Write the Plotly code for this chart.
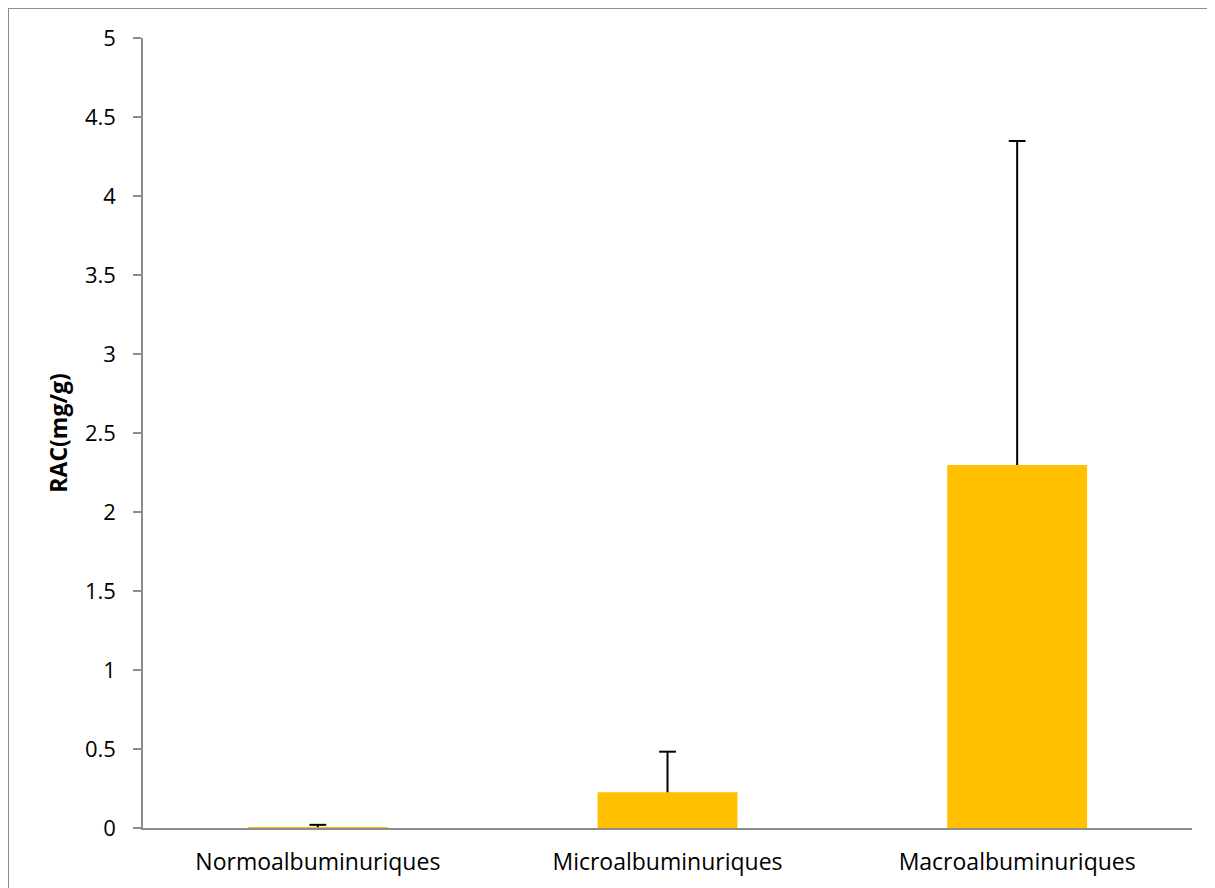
import plotly.graph_objects as go

categories = ["Normoalbuminuriques", "Microalbuminuriques", "Macroalbuminuriques"]
values = [0.005, 0.226, 2.297]
errors_plus = [0.015, 0.257, 2.051]
tick_vals = [0, 0.5, 1, 1.5, 2, 2.5, 3, 3.5, 4, 4.5, 5]
tick_text = ["0", "0.5", "1", "1.5", "2", "2.5", "3", "3.5", "4", "4.5", "5"]

font_family = "Open Sans, sans-serif"

W, H = 1215, 888
L, R, T, B = 135, 31, 30, 68
PW, PH = W - L - R, H - T - B

fig = go.Figure()
fig.add_trace(go.Bar(
    x=categories,
    y=values,
    marker=dict(color="#FFC000", line=dict(width=0)),
    width=0.4,
    hoverinfo="x+y",
))

# error bars (upper only, no cap at the bar top)
ex, ey = [], []
for c, v, e in zip(categories, values, errors_plus):
    ex += [c, c, None]
    ey += [v, v + e, None]
fig.add_trace(go.Scatter(
    x=ex, y=ey, mode="lines",
    line=dict(color="black", width=2),
    hoverinfo="skip",
))
fig.add_trace(go.Scatter(
    x=categories,
    y=[v + e for v, e in zip(values, errors_plus)],
    mode="markers",
    marker=dict(symbol="line-ew", size=12, line=dict(color="black", width=2)),
    hoverinfo="skip",
))

x0b = -L / PW
y0b = -B / PH - 0.05
y1b = 1 + T / PH
x1b = 1 + R / PW + 0.05

fig.update_layout(
    width=W, height=H,
    margin=dict(l=L, r=R, t=T, b=B, pad=0),
    paper_bgcolor="white",
    plot_bgcolor="white",
    showlegend=False,
    font=dict(family=font_family, size=23, color="black"),
    xaxis=dict(
        showline=True, linecolor="#8c8c8c", linewidth=2,
        ticks="", showgrid=False, tickfont=dict(size=23),
        ticklabelstandoff=12,
    ),
    yaxis=dict(
        range=[0, 5], tickvals=tick_vals, ticktext=tick_text,
        showline=True, linecolor="#8c8c8c", linewidth=1.5,
        ticks="outside", ticklen=8, tickcolor="#8c8c8c", tickwidth=1.5,
        showgrid=False, zeroline=False,
        tickfont=dict(size=22),
        ticklabelstandoff=13,
        title=dict(text="<b>RAC(mg/g)</b>", font=dict(size=23), standoff=11),
    ),
    shapes=[dict(type="path", xref="paper", yref="paper",
                 path=f"M {x0b},{y0b} L {x0b},{y1b} L {x1b},{y1b}",
                 line=dict(color="#8c8c8c", width=2),
                 layer="above")],
)

fig.write_html("out.html")
